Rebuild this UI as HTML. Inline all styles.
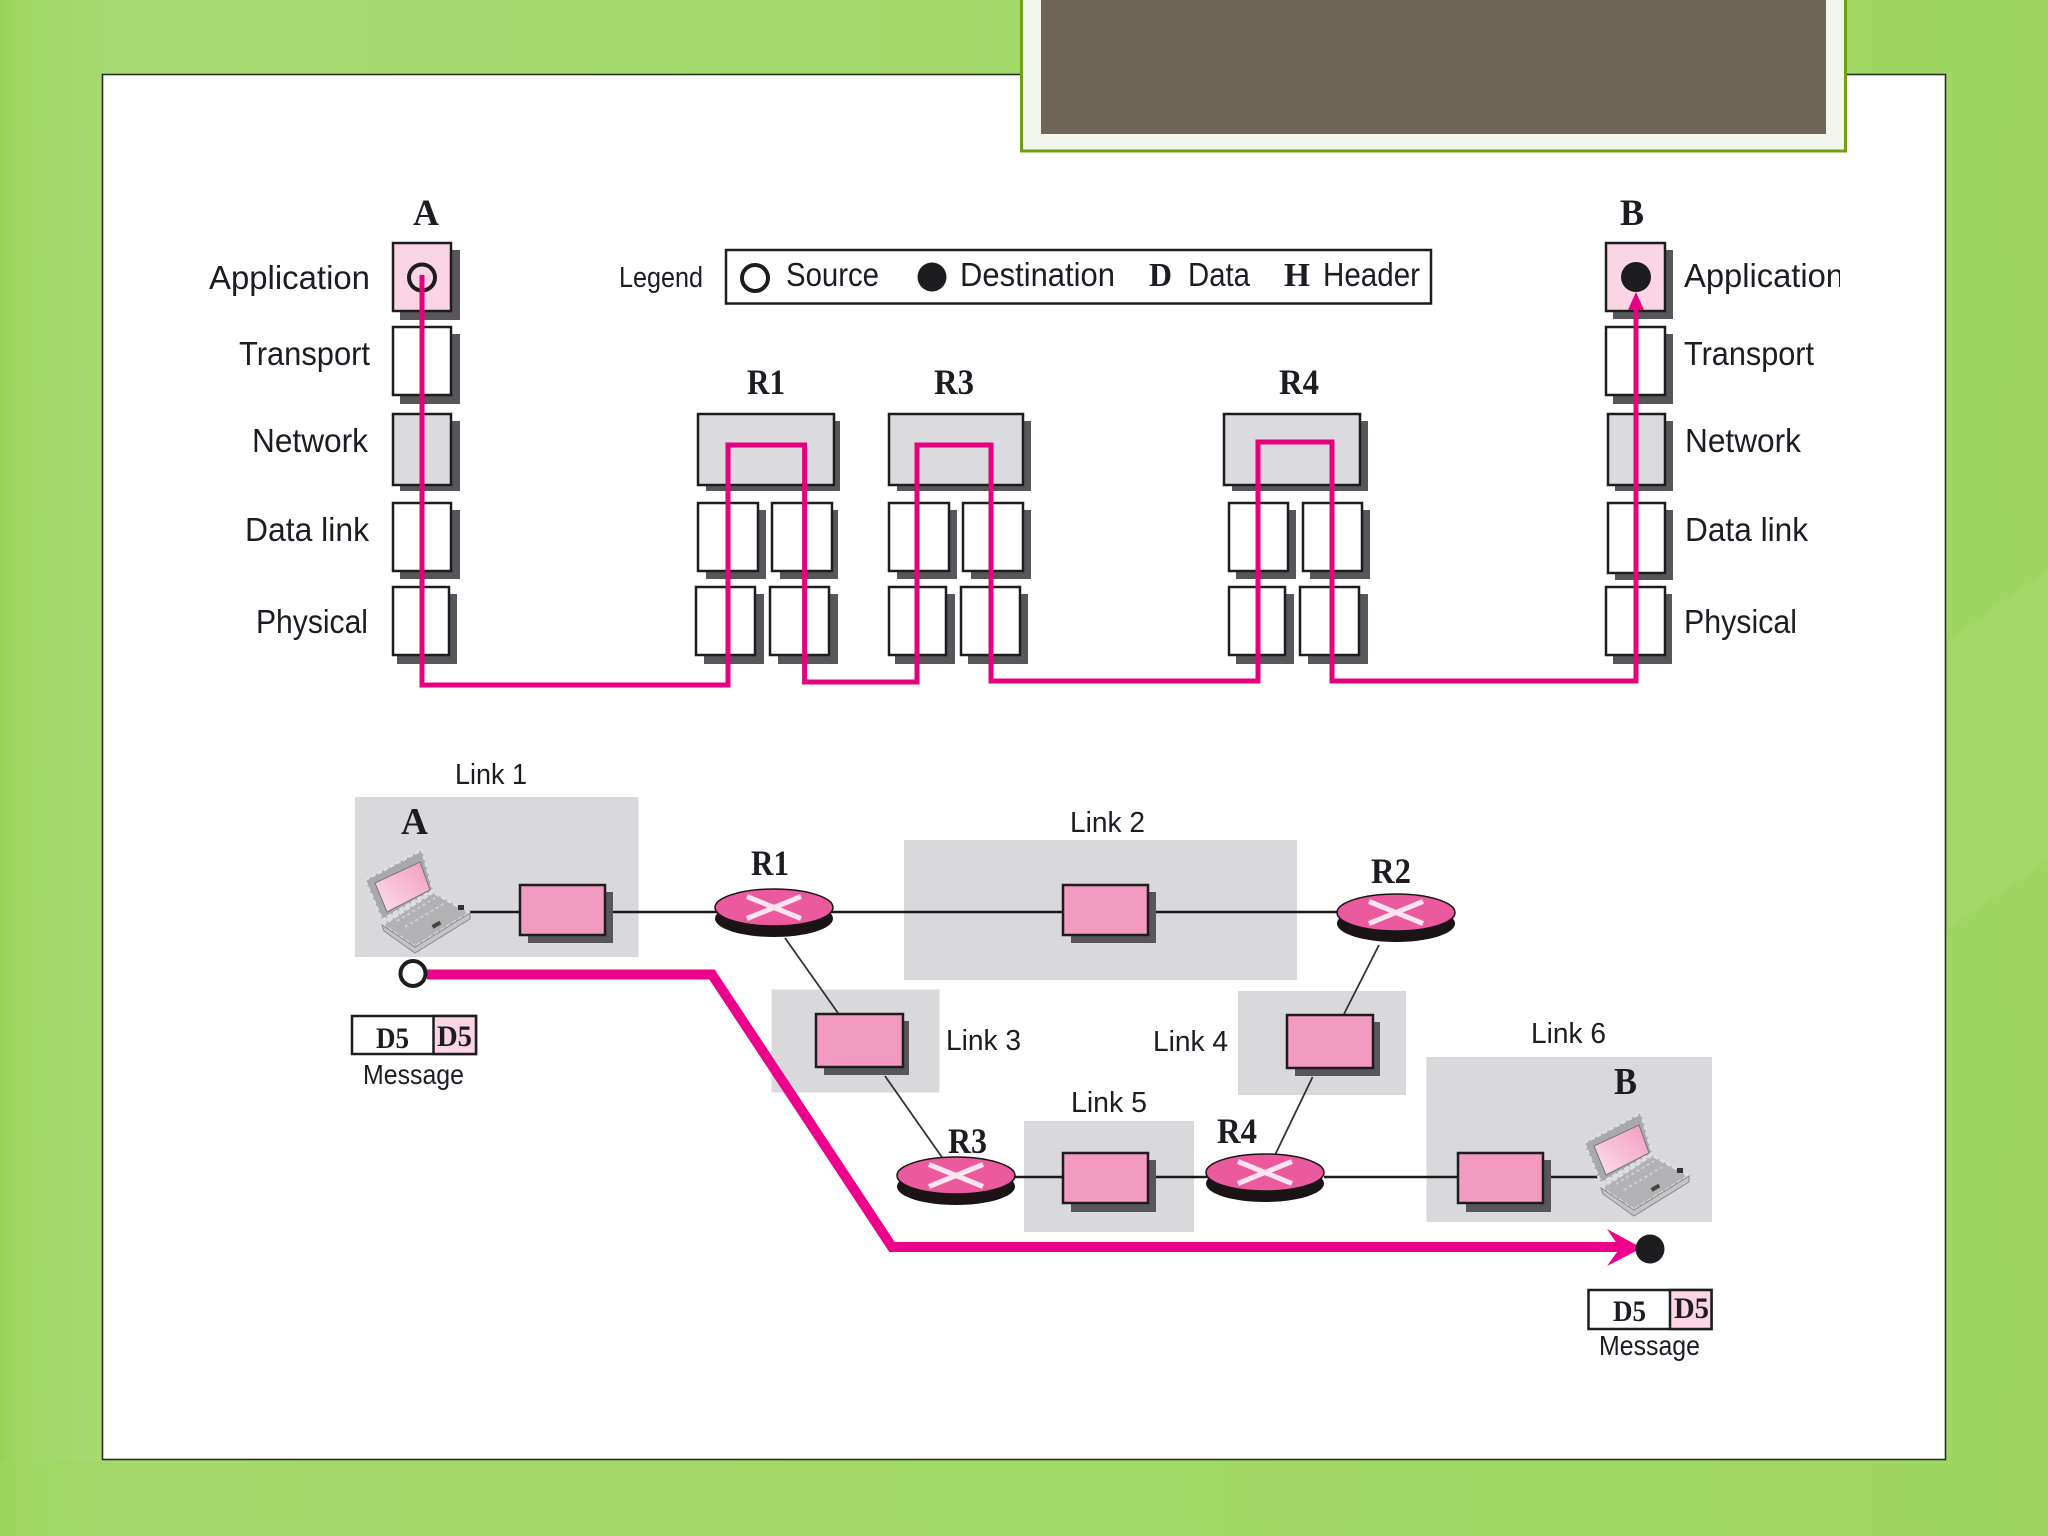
<!DOCTYPE html>
<html>
<head>
<meta charset="utf-8">
<style>
html,body{margin:0;padding:0;width:2048px;height:1536px;overflow:hidden;background:#9fd661}
svg{display:block}
text{filter:blur(.35px)}
.s{font-family:"Liberation Sans",sans-serif;fill:#1c1c22}
.b{font-family:"Liberation Serif",serif;font-weight:bold;fill:#1c1c22}
.sh{fill:#58565a}
.w{fill:#fff;stroke:#1d1d1f;stroke-width:2.5}
.g{fill:#dbdbdf;stroke:#1d1d1f;stroke-width:2.5}
.p{fill:#fcd5e5;stroke:#1d1d1f;stroke-width:2.5}
.k{fill:#f39ac0;stroke:#1d1d1f;stroke-width:2.5}
.z{fill:#d9d9dc}
.l{stroke:#1a1a1a;stroke-width:2.5;fill:none}
.t{stroke:#333;stroke-width:1.8;fill:none}
</style>
</head>
<body>
<svg xmlns="http://www.w3.org/2000/svg" width="2048" height="1536" viewBox="0 0 2048 1536">
<defs>
<linearGradient id="bg" x1="0" x2="1" y1="0" y2="0">
<stop offset="0" stop-color="#98d254"/><stop offset="0.01" stop-color="#9fd762"/><stop offset="0.03" stop-color="#a3d96c"/><stop offset="0.06" stop-color="#a8db74"/><stop offset="0.5" stop-color="#a3d969"/><stop offset="1" stop-color="#9ed661"/>
</linearGradient>
<linearGradient id="scr" x1="0" x2="1" y1="1" y2="0">
<stop offset="0" stop-color="#fde0ec"/><stop offset="1" stop-color="#f39abf"/>
</linearGradient>
<g id="router">
<ellipse cx="0" cy="11" rx="59" ry="18.5" fill="#1a1416"/>
<ellipse cx="0" cy="0" rx="59" ry="18.5" fill="#ec5a9e" stroke="#1a1416" stroke-width="1.5"/>
<path d="M-27,-11 L27,11 M27,-11 L-27,11" stroke="#fde4ee" stroke-width="5" fill="none"/>
</g>
<g id="laptop">
<polygon points="382,925 433,892 470,913 415,947" fill="#b2b2b4" stroke="#dedee0" stroke-width="3" stroke-dasharray="5 2"/>
<polygon points="384,931 415,953 470,919 470,913 415,947 382,925" fill="#c4c4c6" stroke="#8a8a8c" stroke-width="1"/>
<polygon points="365,880 422,850 433,890 382,920" fill="#a9a9ab" stroke="#dedee0" stroke-width="2.5" stroke-dasharray="5 2"/>
<polygon points="375,883 420,862 430,890 387,912" fill="url(#scr)" stroke="#77777a" stroke-width="1"/>
<path d="M397,921 L435,898 M405,927 L445,903" stroke="#cfcfd1" stroke-width="2" stroke-dasharray="3 3" fill="none"/>
<rect x="458" y="905" width="6" height="5" fill="#333"/>
<rect x="432" y="923" width="9" height="4" fill="#444" transform="rotate(-30 436 925)"/>
</g>
</defs>

<rect width="2048" height="1536" fill="url(#bg)"/>
<rect x="0" y="1462" width="2048" height="74" fill="#9fd763" opacity=".55"/>
<polygon points="1948,640 2048,570 2048,860 1948,930" fill="#a7da70" opacity=".5"/>

<rect x="102.5" y="74.5" width="1843" height="1385" fill="#fff" stroke="#2a2f25" stroke-width="1.6"/>

<rect x="1021.5" y="-5" width="824" height="156" fill="#f3f5ef" stroke="#6fa10f" stroke-width="3"/>
<rect x="1041" y="-5" width="785" height="139" fill="#6f6557"/>

<!-- stacks: A -->
<rect class="sh" x="400" y="250" width="60" height="70"/><rect class="p" x="393" y="243" width="58" height="68"/>
<rect class="sh" x="400" y="334" width="60" height="70"/><rect class="w" x="393" y="327" width="58" height="68"/>
<rect class="sh" x="400" y="421" width="60" height="70"/><rect class="g" x="393" y="414" width="58" height="71"/>
<rect class="sh" x="400" y="510" width="60" height="69"/><rect class="w" x="393" y="503" width="58" height="68"/>
<rect class="sh" x="397" y="594" width="60" height="70"/><rect class="w" x="393" y="587" width="56" height="68"/>

<!-- R1 -->
<rect class="sh" x="706" y="421" width="134" height="70"/><rect class="g" x="698" y="414" width="136" height="71"/>
<rect class="sh" x="706" y="510" width="60" height="69"/><rect class="w" x="698" y="503" width="60" height="68"/>
<rect class="sh" x="780" y="510" width="58" height="69"/><rect class="w" x="772" y="503" width="60" height="68"/>
<rect class="sh" x="704" y="594" width="60" height="70"/><rect class="w" x="696" y="587" width="59" height="68"/>
<rect class="sh" x="778" y="594" width="60" height="70"/><rect class="w" x="770" y="587" width="59" height="68"/>

<!-- R3 -->
<rect class="sh" x="897" y="421" width="134" height="70"/><rect class="g" x="889" y="414" width="134" height="71"/>
<rect class="sh" x="897" y="510" width="60" height="69"/><rect class="w" x="889" y="503" width="60" height="68"/>
<rect class="sh" x="971" y="510" width="60" height="69"/><rect class="w" x="963" y="503" width="60" height="68"/>
<rect class="sh" x="895" y="594" width="60" height="70"/><rect class="w" x="889" y="587" width="57" height="68"/>
<rect class="sh" x="968" y="594" width="60" height="70"/><rect class="w" x="961" y="587" width="59" height="68"/>

<!-- R4 -->
<rect class="sh" x="1232" y="421" width="136" height="70"/><rect class="g" x="1224" y="414" width="136" height="71"/>
<rect class="sh" x="1236" y="510" width="60" height="69"/><rect class="w" x="1229" y="503" width="59" height="68"/>
<rect class="sh" x="1310" y="510" width="60" height="69"/><rect class="w" x="1303" y="503" width="59" height="68"/>
<rect class="sh" x="1236" y="594" width="58" height="70"/><rect class="w" x="1229" y="587" width="56" height="68"/>
<rect class="sh" x="1308" y="594" width="60" height="70"/><rect class="w" x="1300" y="587" width="59" height="68"/>

<!-- B -->
<rect class="sh" x="1613" y="250" width="60" height="69"/><rect class="p" x="1606" y="243" width="59" height="68"/>
<rect class="sh" x="1613" y="334" width="60" height="70"/><rect class="w" x="1606" y="327" width="59" height="68"/>
<rect class="sh" x="1615" y="421" width="58" height="70"/><rect class="g" x="1608" y="414" width="57" height="71"/>
<rect class="sh" x="1615" y="510" width="58" height="70"/><rect class="w" x="1608" y="503" width="57" height="70"/>
<rect class="sh" x="1613" y="594" width="59" height="70"/><rect class="w" x="1606" y="587" width="59" height="68"/>

<circle cx="422" cy="277.5" r="13" fill="none" stroke="#1d1d20" stroke-width="4"/>
<circle cx="1636" cy="277" r="15" fill="#1d1d20"/>

<path d="M422,275 V685 H728 V445 H804.6 V682 H917 V445 H991 V681 H1258 V442 H1332 V681 H1636 V300" fill="none" stroke="#e6007e" stroke-width="5"/>
<polygon points="1636,292 1628,310 1644,310" fill="#e6007e"/>

<!-- top labels -->
<text class="b" x="413" y="225" font-size="37" textLength="26" lengthAdjust="spacingAndGlyphs">A</text>
<text class="b" x="1620" y="225" font-size="37" textLength="24" lengthAdjust="spacingAndGlyphs">B</text>
<text class="b" x="747" y="394" font-size="36" textLength="38" lengthAdjust="spacingAndGlyphs">R1</text>
<text class="b" x="934" y="394" font-size="36" textLength="40" lengthAdjust="spacingAndGlyphs">R3</text>
<text class="b" x="1279" y="394" font-size="36" textLength="40" lengthAdjust="spacingAndGlyphs">R4</text>

<text class="s" x="209" y="289" font-size="33" textLength="161" lengthAdjust="spacingAndGlyphs">Application</text>
<text class="s" x="239" y="365" font-size="33" textLength="131" lengthAdjust="spacingAndGlyphs">Transport</text>
<text class="s" x="252" y="452" font-size="33" textLength="116" lengthAdjust="spacingAndGlyphs">Network</text>
<text class="s" x="245" y="541" font-size="33" textLength="124" lengthAdjust="spacingAndGlyphs">Data link</text>
<text class="s" x="256" y="633" font-size="33" textLength="112" lengthAdjust="spacingAndGlyphs">Physical</text>

<svg x="1680" y="240" width="160" height="70"><text class="s" x="4" y="47" font-size="33" textLength="160" lengthAdjust="spacingAndGlyphs">Application</text></svg>
<text class="s" x="1684" y="365" font-size="33" textLength="130" lengthAdjust="spacingAndGlyphs">Transport</text>
<text class="s" x="1685" y="452" font-size="33" textLength="116" lengthAdjust="spacingAndGlyphs">Network</text>
<text class="s" x="1685" y="541" font-size="33" textLength="123" lengthAdjust="spacingAndGlyphs">Data link</text>
<text class="s" x="1684" y="633" font-size="33" textLength="113" lengthAdjust="spacingAndGlyphs">Physical</text>

<!-- legend -->
<text class="s" x="619" y="287" font-size="29" textLength="84" lengthAdjust="spacingAndGlyphs">Legend</text>
<rect x="726" y="250" width="705" height="53.5" fill="#fff" stroke="#1d1d1f" stroke-width="2.5"/>
<circle cx="755" cy="278" r="13" fill="none" stroke="#1d1d20" stroke-width="4"/>
<text class="s" x="786" y="286" font-size="33" textLength="93" lengthAdjust="spacingAndGlyphs">Source</text>
<circle cx="932" cy="277" r="14.5" fill="#1d1d20"/>
<text class="s" x="960" y="286" font-size="33" textLength="155" lengthAdjust="spacingAndGlyphs">Destination</text>
<text class="b" x="1149" y="286" font-size="34" textLength="23" lengthAdjust="spacingAndGlyphs">D</text>
<text class="s" x="1188" y="286" font-size="33" textLength="62" lengthAdjust="spacingAndGlyphs">Data</text>
<text class="b" x="1284" y="286" font-size="34" textLength="26" lengthAdjust="spacingAndGlyphs">H</text>
<text class="s" x="1323" y="286" font-size="33" textLength="97" lengthAdjust="spacingAndGlyphs">Header</text>

<!-- lower: link areas -->
<rect class="z" x="355" y="797" width="283.5" height="160"/>
<rect class="z" x="904" y="840" width="393" height="140"/>
<rect class="z" x="771.5" y="989.5" width="168" height="103"/>
<rect class="z" x="1238" y="991" width="168" height="104"/>
<rect class="z" x="1024" y="1121" width="170" height="111"/>
<rect class="z" x="1426.5" y="1057" width="285.5" height="165"/>

<!-- wires -->
<path class="l" d="M460,912 H1340"/>
<path class="l" d="M1010,1177 H1210 M1324,1177 H1458 M1551,1177 H1610"/>
<path class="t" d="M785,938 L838,1013 M885,1076 L942.5,1158 M1379,945 L1344,1014 M1312.6,1077 L1275,1155"/>

<!-- devices -->
<rect class="sh" x="528" y="892" width="85" height="51"/><rect class="k" x="520" y="885" width="85" height="50"/>
<rect class="sh" x="1071" y="892" width="85" height="51"/><rect class="k" x="1063" y="885" width="85" height="50"/>
<rect class="sh" x="824" y="1021" width="85" height="54"/><rect class="k" x="816" y="1014" width="87" height="53"/>
<rect class="sh" x="1295" y="1022" width="85" height="54"/><rect class="k" x="1287" y="1015" width="86" height="53"/>
<rect class="sh" x="1071" y="1160" width="85" height="52"/><rect class="k" x="1063" y="1153" width="85" height="50"/>
<rect class="sh" x="1466" y="1160" width="85" height="52"/><rect class="k" x="1458" y="1153" width="85" height="50"/>

<use href="#router" x="774" y="907.5"/>
<use href="#router" x="1396" y="912.5"/>
<use href="#router" x="956" y="1175.5"/>
<use href="#router" x="1265" y="1172.5"/>

<use href="#laptop"/>
<use href="#laptop" transform="translate(1219,263)"/>

<!-- route -->
<polyline points="427,974.5 712,974.5 892,1247 1622,1247" fill="none" stroke="#ec008c" stroke-width="10"/>
<polygon points="1642,1248 1607,1229 1620,1248 1607,1266" fill="#ec008c"/>
<circle cx="413" cy="973.5" r="12.5" fill="#fff" stroke="#1d1d20" stroke-width="4"/>
<circle cx="1650" cy="1249" r="14.5" fill="#1d1d20"/>

<!-- messages -->
<rect x="352" y="1016" width="124" height="38" fill="#fff" stroke="#1d1d1f" stroke-width="2.5"/>
<rect x="433.5" y="1016" width="42.5" height="38" fill="#fcd5e5" stroke="#1d1d1f" stroke-width="2.5"/>
<text class="b" x="376" y="1048" font-size="30" textLength="33" lengthAdjust="spacingAndGlyphs">D5</text>
<text class="b" x="437" y="1046" font-size="30" textLength="35" lengthAdjust="spacingAndGlyphs">D5</text>
<text class="s" x="363" y="1084" font-size="28" textLength="101" lengthAdjust="spacingAndGlyphs">Message</text>

<rect x="1588.5" y="1290" width="123" height="39" fill="#fff" stroke="#1d1d1f" stroke-width="2.5"/>
<rect x="1670" y="1290" width="41.5" height="39" fill="#fcd5e5" stroke="#1d1d1f" stroke-width="2.5"/>
<text class="b" x="1613" y="1321" font-size="30" textLength="33" lengthAdjust="spacingAndGlyphs">D5</text>
<text class="b" x="1674" y="1318" font-size="30" textLength="35" lengthAdjust="spacingAndGlyphs">D5</text>
<text class="s" x="1599" y="1355" font-size="28" textLength="101" lengthAdjust="spacingAndGlyphs">Message</text>

<!-- lower labels -->
<text class="s" x="455" y="784" font-size="29" textLength="72" lengthAdjust="spacingAndGlyphs">Link 1</text>
<text class="s" x="1070" y="832" font-size="29" textLength="75" lengthAdjust="spacingAndGlyphs">Link 2</text>
<text class="s" x="946" y="1050" font-size="29" textLength="75" lengthAdjust="spacingAndGlyphs">Link 3</text>
<text class="s" x="1153" y="1051" font-size="29" textLength="75" lengthAdjust="spacingAndGlyphs">Link 4</text>
<text class="s" x="1071" y="1112" font-size="29" textLength="76" lengthAdjust="spacingAndGlyphs">Link 5</text>
<text class="s" x="1531" y="1043" font-size="29" textLength="75" lengthAdjust="spacingAndGlyphs">Link 6</text>

<text class="b" x="401" y="834" font-size="38" textLength="27" lengthAdjust="spacingAndGlyphs">A</text>
<text class="b" x="1614" y="1094" font-size="38" textLength="23" lengthAdjust="spacingAndGlyphs">B</text>
<text class="b" x="751" y="875" font-size="36" textLength="38" lengthAdjust="spacingAndGlyphs">R1</text>
<text class="b" x="1371" y="883" font-size="36" textLength="40" lengthAdjust="spacingAndGlyphs">R2</text>
<text class="b" x="948" y="1153" font-size="36" textLength="39" lengthAdjust="spacingAndGlyphs">R3</text>
<text class="b" x="1217" y="1143" font-size="36" textLength="40" lengthAdjust="spacingAndGlyphs">R4</text>
</svg>
</body>
</html>
